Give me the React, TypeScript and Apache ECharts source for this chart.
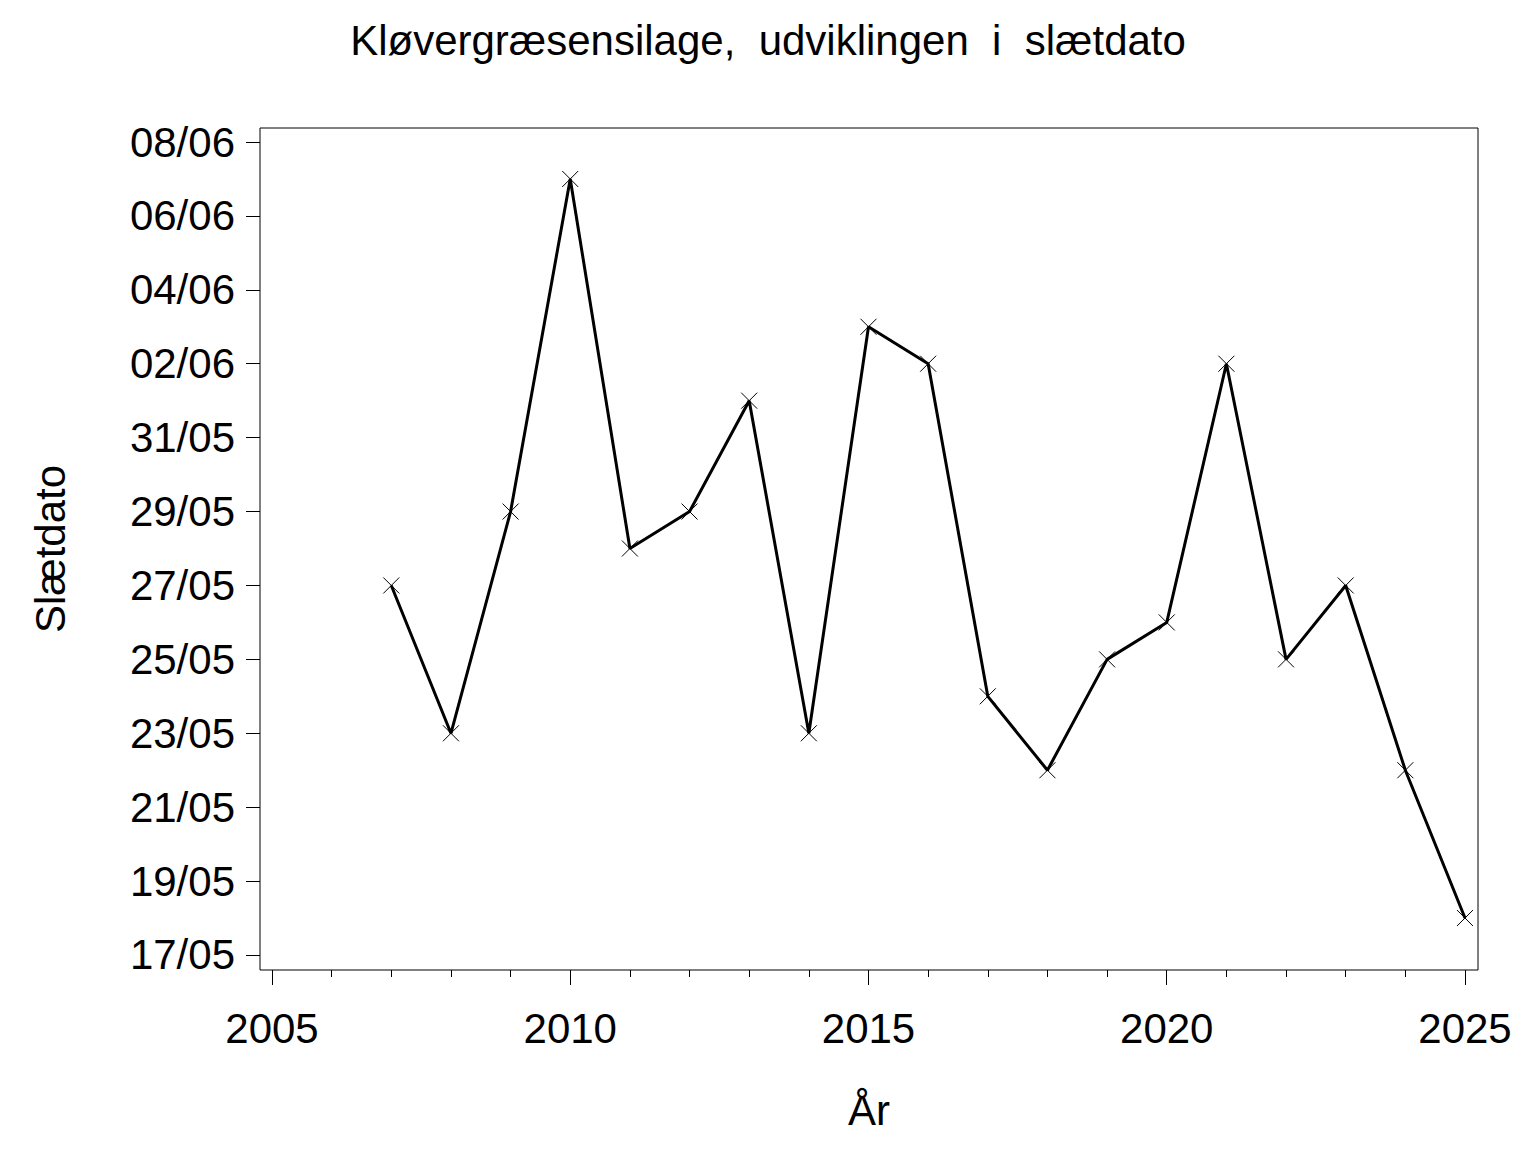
import React, { useEffect, useRef } from "react";
import * as echarts from "echarts";

const years = [2007, 2008, 2009, 2010, 2011, 2012, 2013, 2014, 2015, 2016, 2017, 2018, 2019, 2020, 2021, 2022, 2023, 2024, 2025];
const slaetdato = ["27/05", "23/05", "29/05", "07/06", "28/05", "29/05", "01/06", "23/05", "03/06", "02/06", "24/05", "22/05", "25/05", "26/05", "02/06", "25/05", "27/05", "22/05", "18/05"];
const yTickLabels = ["17/05", "19/05", "21/05", "23/05", "25/05", "27/05", "29/05", "31/05", "02/06", "04/06", "06/06", "08/06"];
const xMajorTicks = [2005, 2010, 2015, 2020, 2025];
const xMinorTicks = [2006, 2007, 2008, 2009, 2011, 2012, 2013, 2014, 2016, 2017, 2018, 2019, 2021, 2022, 2023, 2024];

const titleText = "Kløvergræsensilage,  udviklingen  i  slætdato";
const xName = "År";
const yName = "Slætdato";

// day number counted from 1 May (June days add 31)
const toDay = (s: string) => {
  const [d, m] = s.split("/").map(Number);
  return m === 6 ? 31 + d : d;
};
const fromDay = (v: number) => {
  const r = Math.round(v);
  const d = r > 31 ? r - 31 : r;
  const m = r > 31 ? "06" : "05";
  return String(d).padStart(2, "0") + "/" + m;
};

const FONT = "'Liberation Sans', Arial, Helvetica, sans-serif";

export default function App() {
  const ref = useRef<HTMLDivElement>(null);
  useEffect(() => {
    if (!ref.current) return;
    const chart = echarts.init(ref.current, undefined, { renderer: "svg" });
    const data = years.map((y, i) => [y, toDay(slaetdato[i])]);
    const yTicks = yTickLabels.map(toDay);
    const xMin = 2004.799;
    const xMax = 2025.218;
    const yMin = 16.594;
    const yMax = 39.379;
    chart.setOption({
      animation: false,
      backgroundColor: "#ffffff",
      textStyle: { fontFamily: FONT },
      grid: {
        left: 260,
        top: 128,
        width: 1218,
        height: 842,
        show: true,
        borderColor: "#000",
        borderWidth: 1,
        backgroundColor: "transparent",
      },
      xAxis: [
        {
          type: "value",
          min: xMin,
          max: xMax,
          axisLine: { show: false, onZero: false },
          splitLine: { show: false },
          axisTick: {
            show: true,
            inside: false,
            length: 15,
            customValues: xMajorTicks,
            lineStyle: { color: "#000", width: 1 },
          },
          axisLabel: {
            show: true,
            customValues: xMajorTicks,
            margin: 58,
            verticalAlign: "middle",
            fontSize: 42,
            color: "#000",
            fontFamily: FONT,
            formatter: (v: number) => String(Math.round(v)),
          },
        },
        {
          type: "value",
          min: xMin,
          max: xMax,
          position: "bottom",
          axisLine: { show: false, onZero: false },
          splitLine: { show: false },
          axisTick: {
            show: true,
            inside: false,
            length: 7,
            customValues: xMinorTicks,
            lineStyle: { color: "#000", width: 1 },
          },
          axisLabel: { show: false },
        },
      ],
      yAxis: {
        type: "value",
        min: yMin,
        max: yMax,
        axisLine: { show: false },
        splitLine: { show: false },
        axisTick: {
          show: true,
          inside: false,
          length: 14,
          customValues: yTicks,
          lineStyle: { color: "#000", width: 1 },
        },
        axisLabel: {
          show: true,
          customValues: yTicks,
          margin: 25,
          fontSize: 42,
          color: "#000",
          fontFamily: FONT,
          formatter: (v: number) => fromDay(v),
        },
      },
      graphic: [
        {
          type: "text",
          x: 768,
          y: 40,
          style: {
            text: titleText,
            fontSize: 42,
            fontFamily: FONT,
            fill: "#000",
            align: "center",
            verticalAlign: "middle",
          },
        },
        {
          type: "text",
          x: 869,
          y: 1110,
          style: {
            text: xName,
            fontSize: 42,
            fontFamily: FONT,
            fill: "#000",
            align: "center",
            verticalAlign: "middle",
          },
        },
        {
          type: "text",
          x: 50,
          y: 549,
          rotation: Math.PI / 2,
          style: {
            text: yName,
            fontSize: 42,
            fontFamily: FONT,
            fill: "#000",
            align: "center",
            verticalAlign: "middle",
          },
        },
      ],
      series: [
        {
          type: "line",
          xAxisIndex: 0,
          data,
          symbol: "path://M0 0L10 10M10 0L0 10",
          symbolSize: 16,
          showSymbol: true,
          lineStyle: { color: "#000", width: 3 },
          itemStyle: { color: "none", borderColor: "#000", borderWidth: 1 },
          emphasis: { disabled: true },
          silent: true,
        },
      ],
    });
    return () => chart.dispose();
  }, []);
  return (
    <div
      ref={ref}
      style={{ position: "absolute", left: 0, top: 0, width: 1536, height: 1152 }}
    />
  );
}
